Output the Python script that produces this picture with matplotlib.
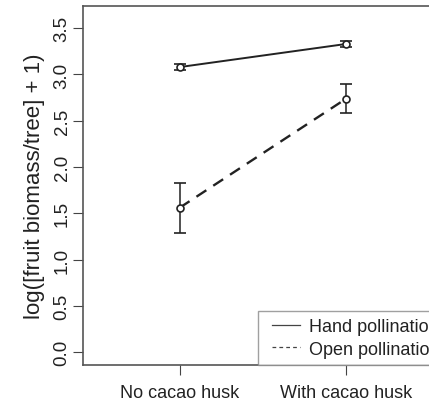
import matplotlib
matplotlib.use("Agg")
import matplotlib.pyplot as plt
from matplotlib.lines import Line2D
from matplotlib.legend_handler import HandlerLine2D

categories = ["No cacao husk", "With cacao husk"]
hand_mean = [3.08, 3.33]
hand_err = [0.035, 0.03]
open_mean = [1.56, 2.74]
open_err = [0.27, 0.155]
yticks = [0.0, 0.5, 1.0, 1.5, 2.0, 2.5, 3.0, 3.5]

plt.rcParams['font.family'] = ['Liberation Sans', 'DejaVu Sans']

fig = plt.figure(figsize=(4.29, 4.02), dpi=100)
ax = fig.add_axes([83/429, 1-366/402, (443-83)/429, (366-7)/402])

x = [1, 2]
col = "#222222"
ax.errorbar(x, hand_mean, yerr=hand_err, fmt='-', color=col, lw=1.4,
            marker='o', mfc='white', mec=col, ms=5, mew=1.2,
            capsize=4, elinewidth=1.1, capthick=1.1, label="Hand pollination")
ax.errorbar(x, open_mean, yerr=open_err, fmt='--', color=col, lw=1.7,
            dashes=(5, 3.5), marker='o', mfc='white', mec=col, ms=5, mew=1.2,
            capsize=4, elinewidth=1.1, capthick=1.1, label="Open pollination")

ax.set_xlim(0.42, 2.58)
ax.set_ylim(-0.14, 3.74)
ax.set_xticks(x)
ax.set_xticklabels(categories, fontsize=13, color='#222222')
ax.set_yticks(yticks)
ax.set_yticklabels([f"{v:.1f}" for v in yticks], rotation=90, va='center',
                   fontsize=13.5, color='#222222')
ax.tick_params(direction='out', length=7, width=0.8, color='#444444')
ax.tick_params(axis='y', pad=2)
ax.tick_params(axis='x', pad=7)
for s in ax.spines.values():
    s.set_color('#555555')
    s.set_linewidth(1.2)
ax.set_ylabel("log([fruit biomass/tree] + 1)", fontsize=16, labelpad=6,
              color='#222222')

handles = [Line2D([], [], color='#444444', lw=0.9, ls='-'),
           Line2D([], [], color='#444444', lw=0.9, ls=(0, (3, 2.5)))]
leg = ax.legend(handles, ["Hand pollination", "Open pollination"],
                loc='lower left', bbox_to_anchor=(258/429, 1-366/402),
                bbox_transform=fig.transFigure, fontsize=13, frameon=True,
                fancybox=False, handlelength=1.95, handletextpad=0.45,
                borderpad=0.4, labelspacing=0.3, borderaxespad=0,
                handler_map={Line2D: HandlerLine2D(xpad=0.4)})
leg.get_frame().set_edgecolor('#888888')
leg.get_frame().set_linewidth(1.0)
for t in leg.get_texts():
    t.set_color('#222222')

fig.savefig("out.png", dpi=100)
